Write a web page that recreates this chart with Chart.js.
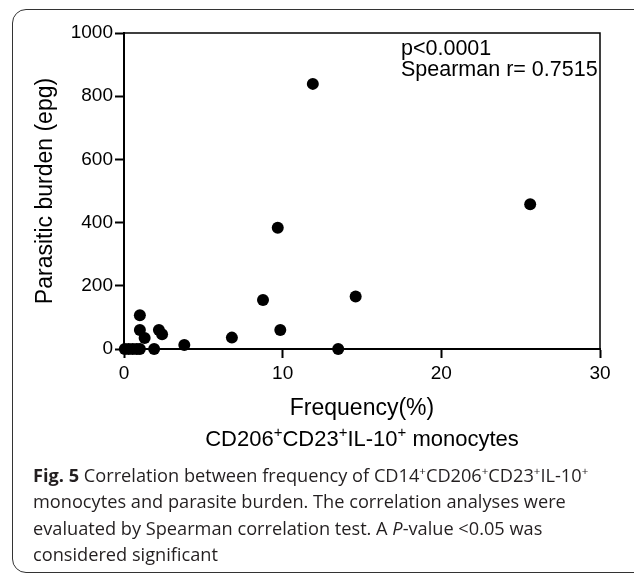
<!DOCTYPE html>
<html>
<head>
<meta charset="utf-8">
<script src="https://cdn.jsdelivr.net/npm/chart.js@4.4.1/dist/chart.umd.min.js"></script>
<style>
  html, body { margin: 0; padding: 0; background: #fff; }
  #wrap { position: relative; width: 634px; height: 578px; overflow: hidden; background: #fff; }
  #frame { position: absolute; left: 12px; top: 9px; width: 640px; height: 564px;
           border: 1.5px solid #333; border-radius: 14px; box-sizing: border-box; }
  #chart { position: absolute; left: 0; top: 0; }
  #annot { position: absolute; left: 401px; top: 38px; font-family: "Liberation Sans", Arial, sans-serif;
           font-size: 21.5px; line-height: 21px; color: #000; white-space: nowrap; }
  #subtitle { position: absolute; left: 124px; width: 476px; top: 424px; text-align: center;
              font-family: "Liberation Sans", Arial, sans-serif; font-size: 22px; line-height: 30px; color: #000; white-space: nowrap; }
  #subtitle sup { font-size: 15px; vertical-align: 9px; line-height: 0; }
  #caption { position: absolute; left: 33px; top: 462px; width: 600px;
             font-family: "Open Sans", sans-serif; font-size: 18.2px; line-height: 26.3px; color: #231f20; white-space: nowrap; }
  #caption sup { font-size: 11.5px; vertical-align: 7px; line-height: 0; }
</style>
</head>
<body>
<div id="wrap">
  <div id="frame"></div>
  <canvas id="chart" width="634" height="425"></canvas>
  <div id="annot">p&lt;0.0001<br>Spearman r= 0.7515</div>
  <div id="subtitle">CD206<sup>+</sup>CD23<sup>+</sup>IL-10<sup>+</sup> monocytes</div>
  <div id="caption"><b>Fig. 5</b> Correlation between frequency of CD14<sup>+</sup>CD206<sup>+</sup>CD23<sup>+</sup>IL-10<sup>+</sup><br>monocytes and parasite burden. The correlation analyses were<br>evaluated by Spearman correlation test. A <i>P</i>-value &lt;0.05 was<br>considered significant</div>
</div>
<script>
// Data
const frequencyPct = [0.05, 0.3, 0.55, 0.8, 1.0, 1.0, 1.0, 1.3, 1.9, 2.2, 2.4, 3.8, 6.8, 8.76, 9.69, 9.85, 11.9, 13.5, 14.6, 25.6];
const parasiticBurden = [0, 0, 0, 0, 0, 107, 60, 35, 0, 60, 47, 13, 36, 155, 384, 60, 839, 0, 166, 458];
const xTicks = [0, 10, 20, 30];
const yTicks = [0, 200, 400, 600, 800, 1000];
const xTitle = "Frequency(%)";
const yTitle = "Parasitic burden (epg)";

const points = frequencyPct.map((x, i) => ({ x: x, y: parasiticBurden[i] }));

const framePlugin = {
  id: 'framePlugin',
  afterDraw(chart) {
    const { ctx, chartArea: a } = chart;
    ctx.save();
    ctx.strokeStyle = '#000';
    ctx.lineWidth = 1.5;
    ctx.beginPath();
    ctx.moveTo(a.left, a.top);
    ctx.lineTo(a.right, a.top);
    ctx.lineTo(a.right, a.bottom);
    ctx.stroke();
    ctx.restore();
  }
};

const FONT = '"Liberation Sans", Arial, sans-serif';

new Chart(document.getElementById('chart'), {
  type: 'scatter',
  data: {
    datasets: [{
      data: points,
      pointRadius: 6,
      pointHoverRadius: 6,
      backgroundColor: '#000',
      borderColor: '#000',
      borderWidth: 0,
      clip: false
    }]
  },
  options: {
    responsive: false,
    devicePixelRatio: 1,
    animation: false,
    events: [],
    layout: { padding: { top: 33, right: 34, left: 0, bottom: 0 } },
    plugins: { legend: { display: false }, tooltip: { enabled: false } },
    scales: {
      x: {
        type: 'linear', min: 0, max: 30,
        afterFit(s) { s.height = 76; },
        afterBuildTicks(s) { s.ticks = xTicks.map(v => ({ value: v })); },
        ticks: { color: '#000', font: { family: FONT, size: 19 }, padding: 4, maxRotation: 0, callback: v => String(v) },
        grid: { display: true, drawOnChartArea: false, drawTicks: true, tickLength: 9, tickColor: '#000', tickWidth: 2 },
        border: { display: true, color: '#000', width: 2 },
        title: { display: true, text: xTitle, color: '#000', font: { family: FONT, size: 23 }, padding: { top: 0, bottom: 3 } }
      },
      y: {
        type: 'linear', min: 0, max: 1000,
        afterFit(s) { s.width = 124; },
        afterBuildTicks(s) { s.ticks = yTicks.map(v => ({ value: v })); },
        ticks: { color: '#000', font: { family: FONT, size: 19 }, padding: 2, callback: v => String(v) },
        grid: { display: true, drawOnChartArea: false, drawTicks: true, tickLength: 9, tickColor: '#000', tickWidth: 2 },
        border: { display: true, color: '#000', width: 2 },
        title: { display: true, text: yTitle, color: '#000', font: { family: FONT, size: 23 }, padding: { top: 32, bottom: 0 } }
      }
    }
  },
  plugins: [framePlugin]
});
</script>
</body>
</html>
